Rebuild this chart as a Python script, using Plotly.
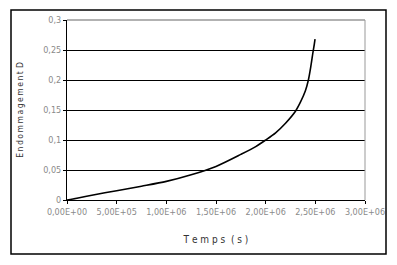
import plotly.graph_objects as go

temps = [0, 0.1e6, 0.25e6, 0.5e6, 0.75e6, 1.0e6, 1.25e6, 1.5e6, 1.75e6, 1.9e6, 2.0e6,
         2.1e6, 2.2e6, 2.3e6, 2.35e6, 2.4e6, 2.43e6, 2.455e6, 2.475e6, 2.49e6, 2.497e6]
endommagement = [0, 0.003, 0.008, 0.0155, 0.023, 0.031, 0.042, 0.056, 0.076, 0.089, 0.1,
                 0.112, 0.128, 0.148, 0.163, 0.182, 0.2, 0.223, 0.245, 0.26, 0.268]

x_tickvals = [0, 0.5e6, 1.0e6, 1.5e6, 2.0e6, 2.5e6, 3.0e6]
x_ticktext = ["0,00E+00", "5,00E+05", "1,00E+06", "1,50E+06", "2,00E+06", "2,50E+06", "3,00E+06"]
y_tickvals = [0, 0.05, 0.1, 0.15, 0.2, 0.25, 0.3]
y_ticktext = ["0", "0,05", "0,1", "0,15", "0,2", "0,25", "0,3"]

W, H = 397, 265
L, R, T, B = 67, 32, 20, 65
pw, ph = W - L - R, H - T - B

def px2paper_x(px):
    return (px - L) / pw

def px2paper_y(py):
    return (H - B - py) / ph

FONT = "Liberation Sans Narrow, DejaVu Sans Condensed, Arial"
tickfont = dict(family=FONT, size=9, color="#8a8a8a")
ytitle = "\u2009".join("Endommagement") + "\u2009\u2009D"

fig = go.Figure()
fig.add_trace(go.Scatter(x=temps, y=endommagement, mode="lines",
                         line=dict(color="black", width=1.6, shape="spline", smoothing=0.8),
                         showlegend=False))

fig.update_layout(
    width=W, height=H,
    margin=dict(l=L, r=R, t=T, b=B),
    paper_bgcolor="white", plot_bgcolor="white",
    xaxis=dict(range=[0, 3.0e6], tickvals=x_tickvals, ticktext=x_ticktext,
               showgrid=False, zeroline=False, showline=True, linecolor="black", linewidth=1,
               ticks="outside", ticklen=3, tickcolor="black", tickfont=tickfont,
               title=dict(text="T e m p s  ( s )", font=dict(family=FONT, size=10, color="#333333"), standoff=20)),
    yaxis=dict(range=[0, 0.3], tickvals=y_tickvals, ticktext=y_ticktext,
               showgrid=True, gridcolor="black", gridwidth=1, zeroline=False,
               showline=True, linecolor="black", linewidth=1,
               ticks="outside", ticklen=3, tickcolor="black", tickfont=tickfont,
               title=dict(text=ytitle, font=dict(family=FONT, size=8.5, color="#333333"), standoff=18)),
    shapes=[
        dict(type="line", xref="paper", yref="paper", x0=0, x1=1, y0=1, y1=1,
             line=dict(color="#999999", width=1.5), layer="above"),
        dict(type="line", xref="paper", yref="paper", x0=1, x1=1, y0=0, y1=1,
             line=dict(color="#999999", width=1), layer="above"),
        dict(type="rect", xref="paper", yref="paper",
             x0=px2paper_x(11), x1=px2paper_x(386), y0=px2paper_y(254), y1=px2paper_y(10),
             line=dict(color="black", width=1.5), layer="below"),
    ],
)

fig.write_html("out.html")
